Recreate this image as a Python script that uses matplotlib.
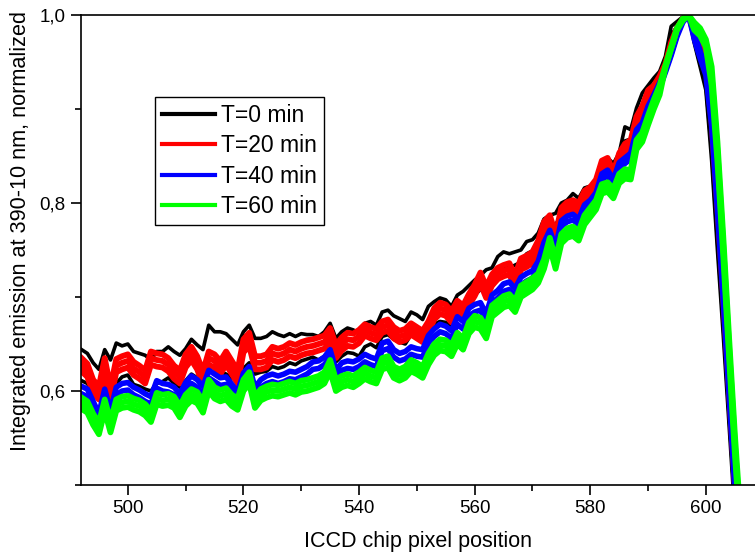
import matplotlib
matplotlib.use("Agg")
import matplotlib.pyplot as plt
from matplotlib.ticker import MultipleLocator, FuncFormatter

plt.rcParams['font.family'] = ['Liberation Sans', 'DejaVu Sans']

# ICCD pixel positions (x axis)
pixel = list(range(492, 608))

# T=0 min, two spectra (upper and lower black traces)
black_a = [
    0.644, 0.640, 0.630, 0.623, 0.644, 0.633, 0.651, 0.648, 0.650,
    0.642, 0.640, 0.638, 0.633, 0.642, 0.642, 0.647, 0.642, 0.638, 0.645,
    0.655, 0.649, 0.644, 0.670, 0.663, 0.663, 0.661, 0.655, 0.649, 0.663,
    0.670, 0.656, 0.656, 0.658, 0.663, 0.660, 0.658, 0.661, 0.658, 0.661,
    0.660, 0.660, 0.658, 0.663, 0.672, 0.656, 0.663, 0.667, 0.665, 0.661,
    0.672, 0.674, 0.670, 0.684, 0.686, 0.680, 0.677, 0.674, 0.684, 0.681,
    0.676, 0.690, 0.695, 0.699, 0.697, 0.690, 0.702, 0.706, 0.712, 0.718,
    0.723, 0.729, 0.731, 0.743, 0.748, 0.746, 0.748, 0.750, 0.759, 0.761,
    0.768, 0.783, 0.787, 0.789, 0.800, 0.803, 0.810, 0.805, 0.816, 0.818,
    0.819, 0.832, 0.848, 0.842, 0.853, 0.881, 0.878, 0.901, 0.917, 0.925,
    0.933, 0.940, 0.956, 0.988, 0.993, 0.998, 1.000, 0.970, 0.945, 0.920,
    0.845, 0.750, 0.660, 0.565, 0.470, 0.400, 0.350,
]
black_b = [
    0.611, 0.608, 0.596, 0.591, 0.611, 0.601, 0.608, 0.615, 0.617,
    0.607, 0.605, 0.602, 0.600, 0.608, 0.610, 0.614, 0.608, 0.604, 0.611,
    0.618, 0.614, 0.608, 0.628, 0.624, 0.621, 0.618, 0.614, 0.610, 0.624,
    0.630, 0.618, 0.620, 0.621, 0.626, 0.624, 0.626, 0.630, 0.628, 0.632,
    0.634, 0.636, 0.633, 0.637, 0.645, 0.631, 0.637, 0.641, 0.640, 0.637,
    0.647, 0.650, 0.646, 0.658, 0.660, 0.655, 0.652, 0.650, 0.660, 0.658,
    0.654, 0.666, 0.671, 0.674, 0.673, 0.668, 0.682, 0.688, 0.695, 0.702,
    0.708, 0.712, 0.716, 0.726, 0.731, 0.731, 0.734, 0.737, 0.746, 0.749,
    0.756, 0.770, 0.774, 0.777, 0.787, 0.791, 0.798, 0.795, 0.805, 0.808,
    0.810, 0.822, 0.836, 0.834, 0.846, 0.866, 0.868, 0.888, 0.905, 0.915,
    0.925, 0.934, 0.950, 0.978, 0.988, 0.996, 1.000, 0.972, 0.948, 0.925,
    0.855, 0.760, 0.670, 0.575, 0.480, 0.405, 0.355,
]

# T=20 min, three spectra
red_a = [
    0.635, 0.629, 0.612, 0.605, 0.635, 0.604, 0.634, 0.637, 0.639,
    0.631, 0.627, 0.622, 0.642, 0.640, 0.639, 0.635, 0.627, 0.622, 0.639,
    0.647, 0.637, 0.621, 0.642, 0.639, 0.632, 0.642, 0.632, 0.622, 0.655,
    0.662, 0.637, 0.637, 0.639, 0.647, 0.645, 0.647, 0.651, 0.649, 0.652,
    0.654, 0.655, 0.657, 0.659, 0.667, 0.649, 0.657, 0.662, 0.661, 0.665,
    0.671, 0.668, 0.666, 0.674, 0.676, 0.668, 0.664, 0.666, 0.672, 0.668,
    0.664, 0.674, 0.688, 0.694, 0.692, 0.685, 0.696, 0.691, 0.703, 0.713,
    0.726, 0.711, 0.724, 0.731, 0.734, 0.736, 0.723, 0.741, 0.744, 0.748,
    0.760, 0.780, 0.787, 0.767, 0.795, 0.801, 0.803, 0.800, 0.813, 0.817,
    0.825, 0.845, 0.848, 0.833, 0.853, 0.863, 0.867, 0.892, 0.903, 0.920,
    0.925, 0.935, 0.948, 0.971, 0.986, 0.996, 1.000, 0.986, 0.969, 0.954,
    0.905, 0.815, 0.720, 0.620, 0.520, 0.440, 0.390,
]
red_b = [
    0.628, 0.622, 0.605, 0.598, 0.628, 0.597, 0.627, 0.630, 0.632,
    0.624, 0.620, 0.615, 0.635, 0.633, 0.632, 0.628, 0.620, 0.615, 0.632,
    0.640, 0.630, 0.614, 0.635, 0.632, 0.625, 0.635, 0.625, 0.615, 0.648,
    0.655, 0.630, 0.630, 0.632, 0.640, 0.638, 0.640, 0.644, 0.642, 0.645,
    0.647, 0.648, 0.650, 0.652, 0.660, 0.642, 0.650, 0.655, 0.654, 0.658,
    0.665, 0.662, 0.660, 0.668, 0.670, 0.662, 0.658, 0.660, 0.666, 0.662,
    0.658, 0.668, 0.682, 0.688, 0.686, 0.679, 0.690, 0.685, 0.697, 0.707,
    0.720, 0.705, 0.718, 0.725, 0.728, 0.730, 0.717, 0.735, 0.738, 0.742,
    0.755, 0.775, 0.782, 0.762, 0.790, 0.796, 0.798, 0.795, 0.808, 0.812,
    0.820, 0.840, 0.843, 0.828, 0.848, 0.858, 0.862, 0.887, 0.898, 0.915,
    0.922, 0.932, 0.945, 0.968, 0.985, 0.995, 1.000, 0.982, 0.965, 0.950,
    0.895, 0.805, 0.710, 0.610, 0.510, 0.430, 0.380,
]
red_c = [
    0.621, 0.615, 0.598, 0.591, 0.621, 0.590, 0.620, 0.623, 0.625,
    0.617, 0.613, 0.608, 0.628, 0.626, 0.625, 0.621, 0.613, 0.608, 0.625,
    0.633, 0.623, 0.607, 0.628, 0.625, 0.618, 0.628, 0.618, 0.608, 0.641,
    0.648, 0.623, 0.623, 0.625, 0.633, 0.631, 0.633, 0.637, 0.635, 0.638,
    0.640, 0.641, 0.643, 0.645, 0.653, 0.635, 0.643, 0.648, 0.647, 0.651,
    0.659, 0.656, 0.654, 0.662, 0.664, 0.656, 0.652, 0.654, 0.660, 0.656,
    0.652, 0.662, 0.676, 0.682, 0.680, 0.673, 0.684, 0.679, 0.691, 0.701,
    0.714, 0.699, 0.712, 0.719, 0.722, 0.724, 0.711, 0.729, 0.732, 0.736,
    0.750, 0.770, 0.777, 0.757, 0.785, 0.791, 0.793, 0.790, 0.803, 0.807,
    0.815, 0.835, 0.838, 0.823, 0.843, 0.853, 0.857, 0.882, 0.893, 0.910,
    0.919, 0.929, 0.942, 0.965, 0.984, 0.994, 1.000, 0.978, 0.961, 0.946,
    0.885, 0.795, 0.700, 0.600, 0.500, 0.420, 0.370,
]

# T=40 min, two spectra
blue_a = [
    0.605, 0.602, 0.589, 0.576, 0.602, 0.579, 0.604, 0.608, 0.609,
    0.604, 0.601, 0.597, 0.594, 0.611, 0.608, 0.607, 0.604, 0.597, 0.609,
    0.616, 0.612, 0.605, 0.622, 0.618, 0.614, 0.615, 0.607, 0.599, 0.619,
    0.626, 0.604, 0.612, 0.616, 0.618, 0.616, 0.618, 0.621, 0.620, 0.623,
    0.626, 0.631, 0.632, 0.636, 0.644, 0.622, 0.630, 0.632, 0.631, 0.634,
    0.639, 0.636, 0.634, 0.651, 0.653, 0.644, 0.640, 0.642, 0.647, 0.645,
    0.644, 0.659, 0.666, 0.671, 0.669, 0.664, 0.679, 0.674, 0.688, 0.692,
    0.694, 0.682, 0.702, 0.707, 0.714, 0.716, 0.709, 0.721, 0.725, 0.728,
    0.738, 0.758, 0.771, 0.753, 0.781, 0.786, 0.788, 0.783, 0.798, 0.803,
    0.811, 0.831, 0.835, 0.825, 0.843, 0.848, 0.853, 0.878, 0.885, 0.903,
    0.915, 0.928, 0.941, 0.959, 0.979, 0.994, 1.000, 0.982, 0.962, 0.944,
    0.898, 0.808, 0.713, 0.613, 0.513, 0.433, 0.383,
]
blue_b = [
    0.597, 0.594, 0.581, 0.568, 0.594, 0.571, 0.596, 0.600, 0.601,
    0.596, 0.593, 0.589, 0.586, 0.603, 0.600, 0.599, 0.596, 0.589, 0.601,
    0.608, 0.604, 0.597, 0.614, 0.610, 0.606, 0.607, 0.599, 0.591, 0.611,
    0.618, 0.596, 0.604, 0.608, 0.610, 0.608, 0.610, 0.613, 0.612, 0.615,
    0.618, 0.623, 0.624, 0.628, 0.636, 0.614, 0.622, 0.624, 0.623, 0.626,
    0.631, 0.628, 0.626, 0.643, 0.645, 0.636, 0.632, 0.634, 0.639, 0.637,
    0.636, 0.651, 0.658, 0.663, 0.661, 0.656, 0.671, 0.666, 0.680, 0.684,
    0.686, 0.674, 0.694, 0.699, 0.706, 0.708, 0.701, 0.713, 0.717, 0.720,
    0.732, 0.752, 0.765, 0.747, 0.775, 0.780, 0.782, 0.777, 0.792, 0.797,
    0.805, 0.825, 0.829, 0.819, 0.837, 0.842, 0.847, 0.872, 0.879, 0.897,
    0.909, 0.922, 0.939, 0.957, 0.977, 0.992, 1.000, 0.974, 0.954, 0.936,
    0.882, 0.792, 0.697, 0.597, 0.497, 0.417, 0.367,
]

# T=60 min, three spectra
green_a = [
    0.593, 0.589, 0.576, 0.566, 0.591, 0.568, 0.591, 0.594, 0.595,
    0.592, 0.590, 0.586, 0.579, 0.598, 0.596, 0.597, 0.594, 0.584, 0.596,
    0.602, 0.599, 0.589, 0.612, 0.604, 0.601, 0.603, 0.596, 0.592, 0.612,
    0.620, 0.594, 0.602, 0.605, 0.607, 0.606, 0.608, 0.610, 0.608, 0.611,
    0.612, 0.614, 0.616, 0.620, 0.633, 0.612, 0.616, 0.618, 0.616, 0.620,
    0.625, 0.622, 0.620, 0.635, 0.637, 0.626, 0.623, 0.626, 0.633, 0.630,
    0.626, 0.640, 0.650, 0.655, 0.654, 0.649, 0.662, 0.656, 0.673, 0.680,
    0.678, 0.668, 0.691, 0.696, 0.701, 0.703, 0.696, 0.712, 0.716, 0.720,
    0.725, 0.740, 0.763, 0.740, 0.767, 0.773, 0.775, 0.770, 0.787, 0.795,
    0.803, 0.820, 0.822, 0.815, 0.831, 0.836, 0.835, 0.867, 0.875, 0.893,
    0.910, 0.925, 0.946, 0.966, 0.986, 0.996, 1.000, 0.992, 0.986, 0.974,
    0.945, 0.865, 0.765, 0.658, 0.555, 0.465, 0.410,
]
green_b = [
    0.587, 0.583, 0.570, 0.560, 0.585, 0.562, 0.585, 0.588, 0.589,
    0.586, 0.584, 0.580, 0.573, 0.592, 0.590, 0.591, 0.588, 0.578, 0.590,
    0.596, 0.593, 0.583, 0.606, 0.598, 0.595, 0.597, 0.590, 0.586, 0.606,
    0.614, 0.588, 0.596, 0.599, 0.601, 0.600, 0.602, 0.604, 0.602, 0.605,
    0.606, 0.608, 0.610, 0.614, 0.627, 0.606, 0.610, 0.612, 0.610, 0.614,
    0.619, 0.616, 0.614, 0.629, 0.631, 0.620, 0.617, 0.620, 0.627, 0.624,
    0.620, 0.634, 0.644, 0.649, 0.648, 0.643, 0.656, 0.650, 0.667, 0.674,
    0.672, 0.662, 0.685, 0.690, 0.695, 0.697, 0.690, 0.706, 0.710, 0.714,
    0.720, 0.735, 0.758, 0.735, 0.762, 0.768, 0.770, 0.765, 0.782, 0.790,
    0.798, 0.815, 0.817, 0.810, 0.826, 0.831, 0.830, 0.862, 0.870, 0.888,
    0.905, 0.920, 0.945, 0.965, 0.985, 0.995, 1.000, 0.988, 0.982, 0.970,
    0.935, 0.855, 0.755, 0.648, 0.545, 0.455, 0.400,
]
green_c = [
    0.581, 0.577, 0.564, 0.554, 0.579, 0.556, 0.579, 0.582, 0.583,
    0.580, 0.578, 0.574, 0.567, 0.586, 0.584, 0.585, 0.582, 0.572, 0.584,
    0.590, 0.587, 0.577, 0.600, 0.592, 0.589, 0.591, 0.584, 0.580, 0.600,
    0.608, 0.582, 0.590, 0.593, 0.595, 0.594, 0.596, 0.598, 0.596, 0.599,
    0.600, 0.602, 0.604, 0.608, 0.621, 0.600, 0.604, 0.606, 0.604, 0.608,
    0.613, 0.610, 0.608, 0.623, 0.625, 0.614, 0.611, 0.614, 0.621, 0.618,
    0.614, 0.628, 0.638, 0.643, 0.642, 0.637, 0.650, 0.644, 0.661, 0.668,
    0.666, 0.656, 0.679, 0.684, 0.689, 0.691, 0.684, 0.700, 0.704, 0.708,
    0.715, 0.730, 0.753, 0.730, 0.757, 0.763, 0.765, 0.760, 0.777, 0.785,
    0.793, 0.810, 0.812, 0.805, 0.821, 0.826, 0.825, 0.857, 0.865, 0.883,
    0.900, 0.915, 0.944, 0.964, 0.984, 0.994, 1.000, 0.984, 0.978, 0.966,
    0.925, 0.845, 0.745, 0.638, 0.535, 0.445, 0.390,
]

# (legend label, colour, line width, traces)
groups = [
    ("T=0 min", "#000000", 2.6, [black_a, black_b]),
    ("T=20 min", "#ff0000", 4.2, [red_a, red_b, red_c]),
    ("T=40 min", "#0000ff", 4.0, [blue_a, blue_b]),
    ("T=60 min", "#00ff00", 4.2, [green_a, green_b, green_c]),
]

fig = plt.figure(figsize=(7.55, 5.54), dpi=100)
ax = fig.add_axes([81 / 755, 69 / 554, 674 / 755, 470 / 554])

for label, color, lw, traces in groups:
    for i, trace in enumerate(traces):
        ax.plot(pixel, trace, color=color, lw=lw,
                solid_joinstyle='round',
                label=label if i == 0 else None)

ax.set_xlim(491.9, 608.5)
ax.set_ylim(0.5, 1.0)

ax.xaxis.set_major_locator(MultipleLocator(20))
ax.xaxis.set_minor_locator(MultipleLocator(10))
ax.yaxis.set_major_locator(MultipleLocator(0.2))
ax.yaxis.set_minor_locator(MultipleLocator(0.1))
ax.yaxis.set_major_formatter(FuncFormatter(lambda v, p: f"{v:.1f}".replace(".", ",")))

ax.tick_params(which='both', direction='out', width=1.2, labelsize=13.5)
ax.tick_params(which='major', length=7, pad=4)
ax.tick_params(which='minor', length=4)
ax.spines['right'].set_visible(False)
for side in ('left', 'bottom', 'top'):
    ax.spines[side].set_linewidth(1.2)

ax.set_xlabel("ICCD chip pixel position", fontsize=15.5, labelpad=10)
ax.set_ylabel("Integrated emission at 390-10 nm, normalized", fontsize=15.6)
# the y label sits a bit above the axes centre in the original
ax.yaxis.set_label_coords(-0.074, 0.54)

leg = ax.legend(loc='upper left', bbox_to_anchor=(155 / 755, 1 - 97 / 554),
                bbox_transform=fig.transFigure, borderaxespad=0,
                fancybox=False, framealpha=1, edgecolor='black',
                fontsize=16.5, handlelength=2.3, labelspacing=0.32,
                borderpad=0.3, handletextpad=0.3)
leg.get_frame().set_linewidth(1.0)
for line in leg.get_lines():
    line.set_linewidth(3.0)

fig.savefig("out.png", dpi=100)
